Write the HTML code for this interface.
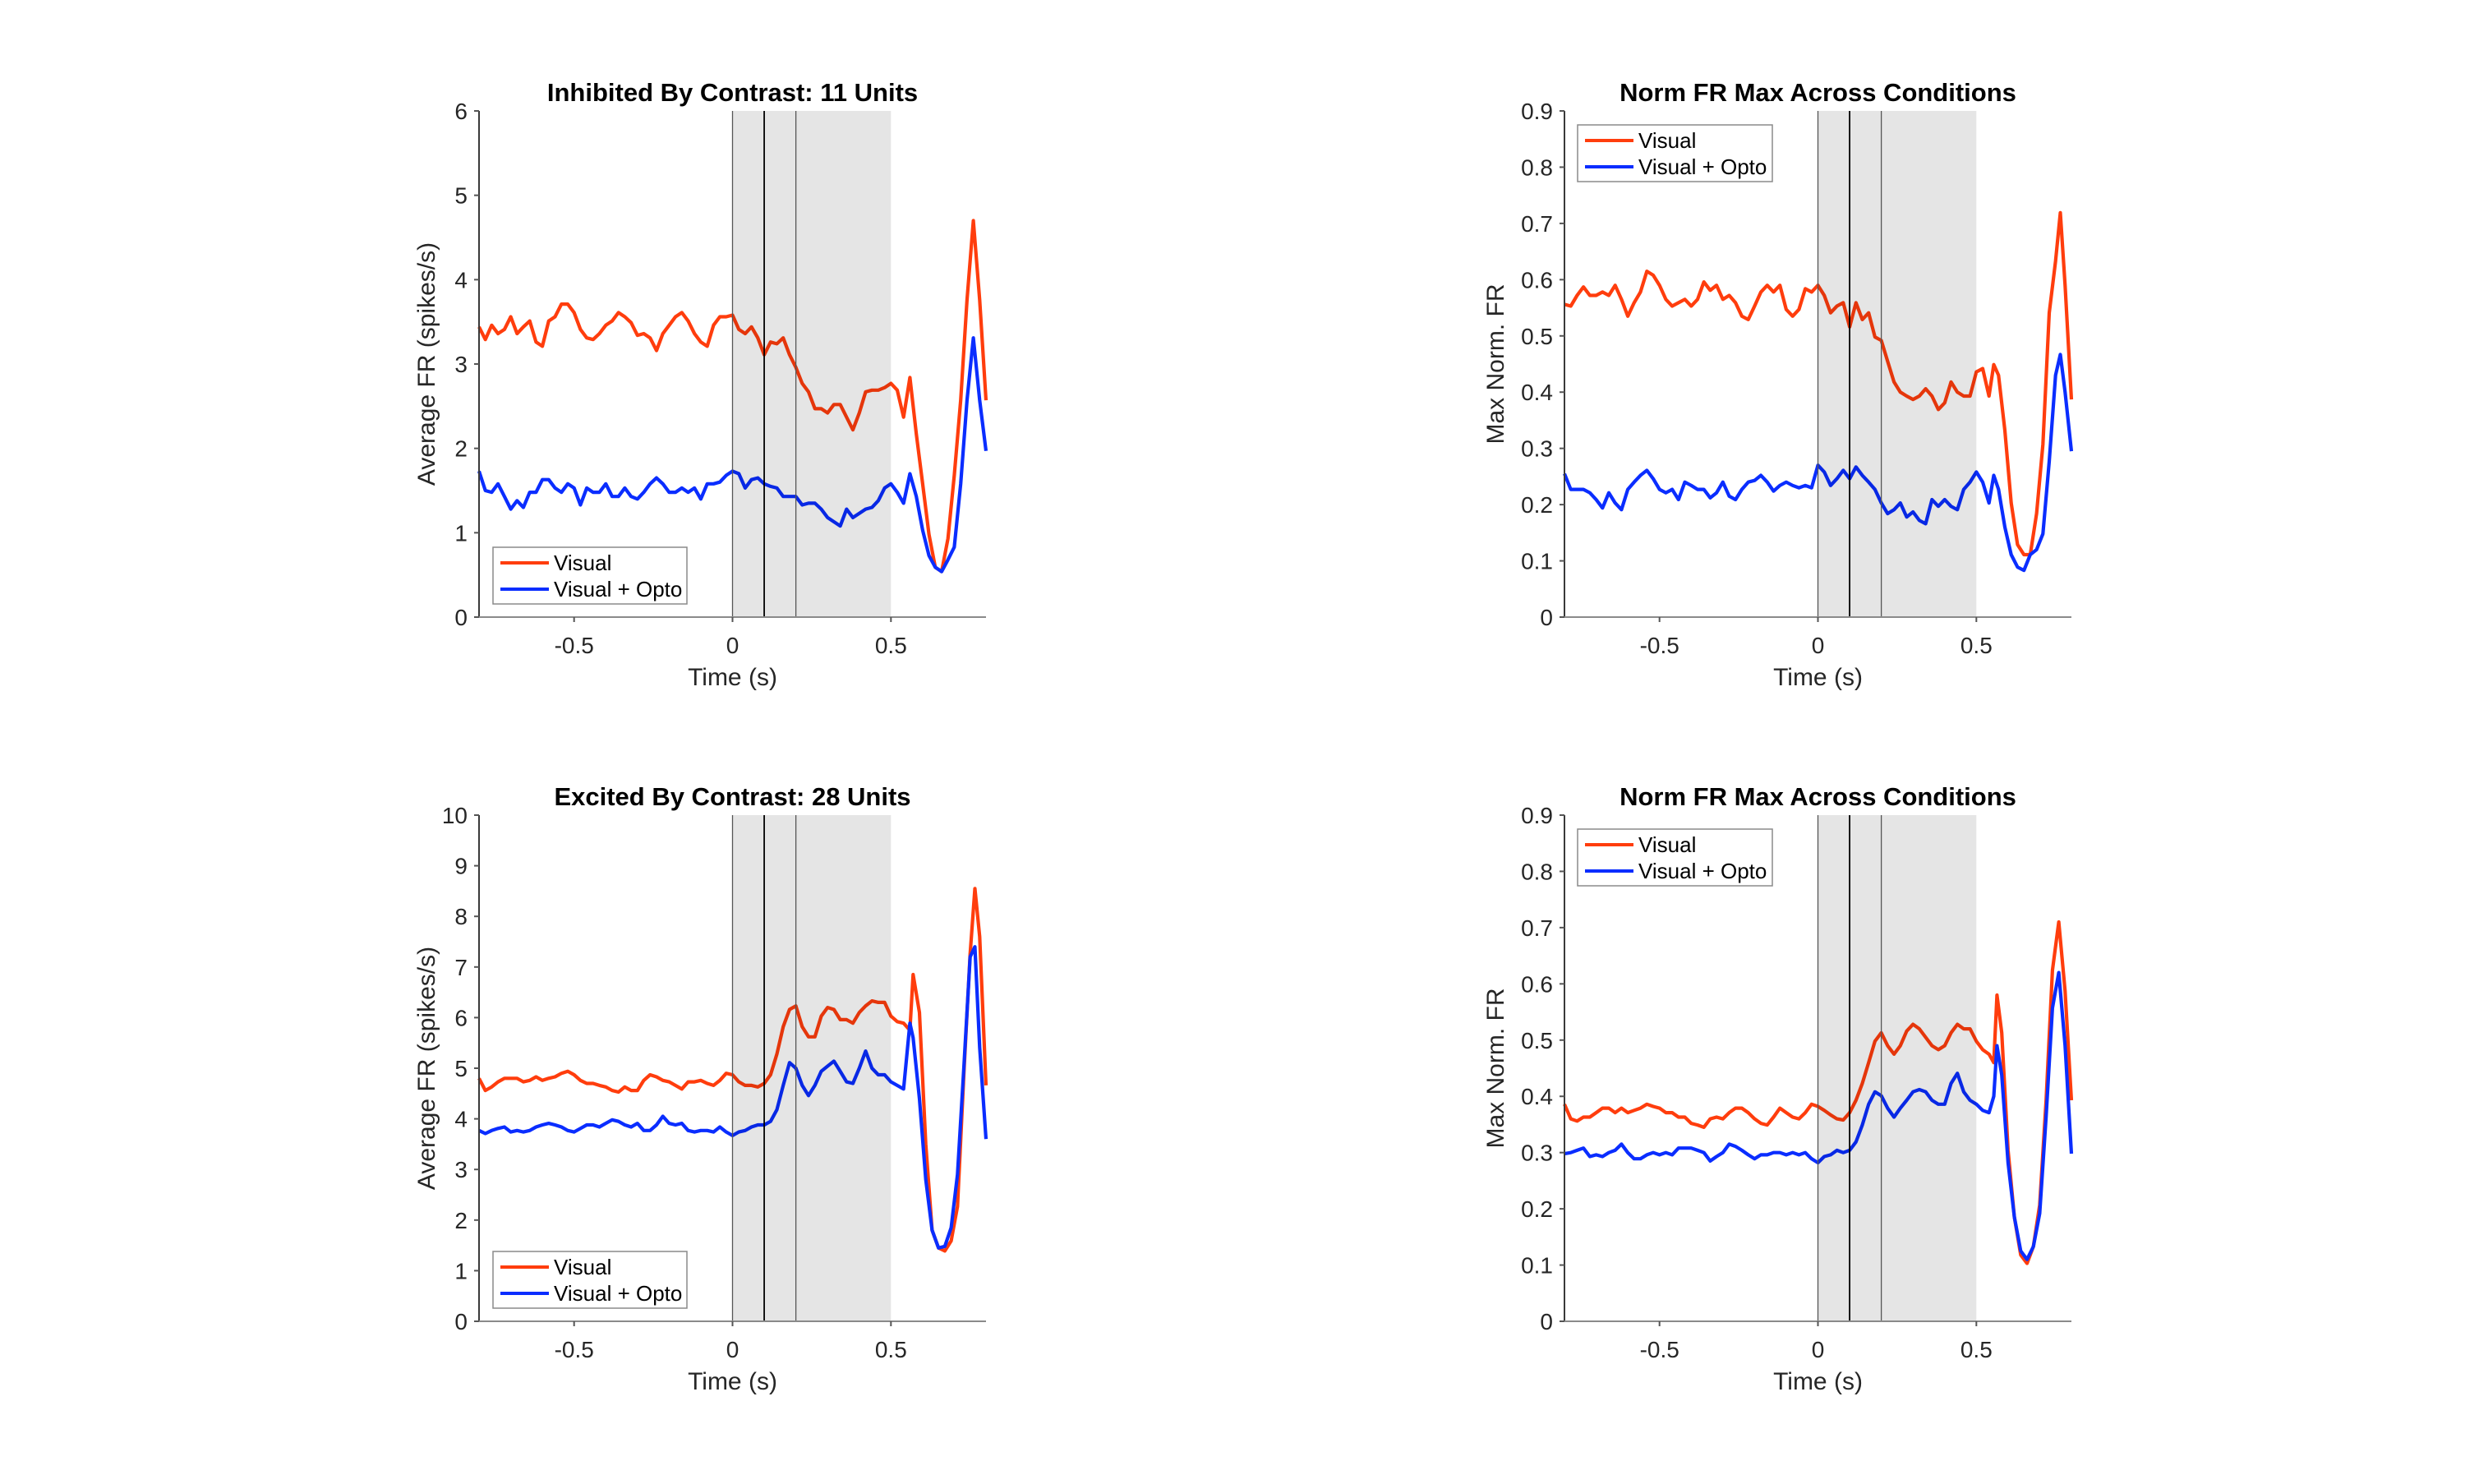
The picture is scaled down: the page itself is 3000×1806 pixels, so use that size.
<!DOCTYPE html>
<html><head><meta charset="utf-8"><style>
html,body{margin:0;padding:0;background:#fff;}
svg{display:block;font-family:"Liberation Sans",Arial,sans-serif;}
</style></head><body>
<svg id="fig" width="3000" height="1806" viewBox="0 0 3000 1806" xmlns="http://www.w3.org/2000/svg"></svg>
<script>
const baseT=[-0.8,-0.78,-0.76,-0.74,-0.72,-0.7,-0.68,-0.66,-0.64,-0.62,-0.6,-0.58,-0.56,-0.54,-0.52,-0.5,-0.48,-0.46,-0.44,-0.42,-0.4,-0.38,-0.36,-0.34,-0.32,-0.3,-0.28,-0.26,-0.24,-0.22,-0.2,-0.18,-0.16,-0.14,-0.12,-0.1,-0.08,-0.06,-0.04,-0.02,0,0.02,0.04,0.06,0.08,0.1,0.12,0.14,0.16,0.18,0.2,0.22,0.24,0.26,0.28,0.3,0.32,0.34,0.36,0.38,0.4,0.42,0.44,0.46,0.48,0.5,0.52,0.54];
const tailTL=[0.56,0.58,0.6,0.62,0.64,0.66,0.68,0.7,0.72,0.74,0.76,0.78,0.8];
const tailTR=[0.555,0.57,0.59,0.61,0.63,0.65,0.67,0.69,0.71,0.73,0.75,0.765,0.78,0.8];
const tailBL=[0.56,0.57,0.59,0.61,0.63,0.65,0.67,0.69,0.71,0.73,0.75,0.765,0.78,0.8];
const tailBR=[0.555,0.565,0.58,0.6,0.62,0.64,0.66,0.68,0.7,0.72,0.74,0.76,0.78,0.8];

const tlVisual=[3.44,3.29,3.46,3.36,3.41,3.56,3.36,3.44,3.51,3.26,3.21,3.51,3.56,3.71,3.71,3.61,3.41,3.31,3.29,3.36,3.46,3.51,3.61,3.56,3.49,3.34,3.36,3.31,3.16,3.36,3.46,3.56,3.61,3.51,3.36,3.26,3.21,3.46,3.56,3.56,3.58,
3.41,3.36,3.44,3.31,3.11,3.26,3.24,3.31,3.11,2.96,2.77,2.67,2.47,2.47,2.42,2.52,2.52,2.37,2.22,2.42,2.67,2.69,2.69,2.72,2.77,2.69,2.37,2.84,2.17,1.58,0.98,0.59,0.54,0.93,1.68,2.57,3.76,4.70,3.76,2.57];
const tlOpto=[1.73,1.50,1.48,1.58,1.43,1.28,1.38,1.30,1.48,1.48,1.63,1.63,1.53,1.48,1.58,1.53,1.33,1.53,1.48,1.48,1.58,1.43,1.43,1.53,1.43,1.40,1.48,1.58,1.65,1.58,1.48,1.48,1.53,1.48,1.53,1.40,1.58,1.58,1.60,1.68,1.73,
1.70,1.53,1.63,1.65,1.58,1.55,1.53,1.43,1.43,1.43,1.33,1.35,1.35,1.28,1.18,1.13,1.08,1.28,1.18,1.23,1.28,1.30,1.38,1.53,1.58,1.48,1.35,1.70,1.43,1.03,0.73,0.59,0.54,0.68,0.83,1.58,2.57,3.31,2.57,1.97];

const trVisual=[0.556,0.553,0.572,0.587,0.572,0.572,0.578,0.572,0.590,0.565,0.535,0.559,0.578,0.615,0.608,0.590,0.565,0.553,0.559,0.565,0.553,0.565,0.596,0.581,0.590,0.565,0.572,0.559,0.535,0.529,0.553,0.578,0.590,0.578,0.590,0.547,0.535,0.547,0.584,0.578,0.590,
0.572,0.541,0.553,0.559,0.516,0.559,0.529,0.541,0.498,0.492,0.455,0.418,0.400,0.393,0.387,0.393,0.406,0.393,0.369,0.381,0.418,0.400,0.393,0.393,0.436,0.442,0.393,
0.449,0.430,0.332,0.203,0.129,0.111,0.111,0.184,0.307,0.541,0.633,0.719,0.590,0.387];
const trOpto=[0.255,0.227,0.227,0.227,0.221,0.209,0.194,0.221,0.203,0.191,0.227,0.240,0.252,0.261,0.246,0.227,0.221,0.227,0.209,0.240,0.234,0.227,0.227,0.212,0.221,0.240,0.215,0.209,0.227,0.240,0.243,0.252,0.240,0.224,0.234,0.240,0.234,0.230,0.234,0.230,0.270,
0.258,0.234,0.246,0.261,0.246,0.267,0.252,0.240,0.227,0.203,0.184,0.191,0.203,0.178,0.187,0.172,0.166,0.209,0.197,0.209,0.197,0.191,0.227,0.240,0.258,0.240,0.203,
0.252,0.227,0.160,0.111,0.089,0.083,0.111,0.120,0.148,0.277,0.430,0.467,0.400,0.295];

const blVisual=[4.80,4.56,4.63,4.73,4.80,4.80,4.80,4.73,4.76,4.83,4.76,4.80,4.83,4.90,4.94,4.87,4.76,4.70,4.70,4.66,4.63,4.56,4.53,4.63,4.56,4.56,4.76,4.87,4.83,4.76,4.73,4.66,4.59,4.73,4.73,4.76,4.70,4.66,4.76,4.90,4.87,
4.73,4.66,4.66,4.63,4.70,4.87,5.28,5.82,6.16,6.23,5.82,5.62,5.62,6.03,6.20,6.16,5.96,5.96,5.89,6.10,6.23,6.33,6.30,6.30,6.03,5.92,5.89,
5.75,6.85,6.10,3.50,1.80,1.45,1.39,1.59,2.27,4.87,7.26,8.55,7.6,4.66];
const blOpto=[3.77,3.71,3.77,3.81,3.84,3.74,3.77,3.74,3.77,3.84,3.88,3.91,3.88,3.84,3.77,3.74,3.81,3.88,3.88,3.84,3.91,3.98,3.95,3.88,3.84,3.91,3.77,3.77,3.88,4.05,3.91,3.88,3.91,3.77,3.74,3.77,3.77,3.74,3.84,3.74,3.67,
3.74,3.77,3.84,3.88,3.88,3.95,4.18,4.66,5.11,5.00,4.66,4.46,4.66,4.94,5.04,5.14,4.94,4.73,4.70,5.00,5.34,5.00,4.87,4.87,4.73,4.66,4.59,
5.89,5.6,4.4,2.8,1.8,1.45,1.48,1.85,2.9,5.0,7.2,7.4,5.41,3.60];

const brVisual=[0.386,0.360,0.356,0.363,0.363,0.371,0.379,0.379,0.371,0.379,0.371,0.375,0.379,0.386,0.382,0.379,0.371,0.371,0.363,0.363,0.352,0.349,0.345,0.360,0.363,0.360,0.371,0.379,0.379,0.371,0.360,0.352,0.349,0.363,0.379,0.371,0.363,0.360,0.371,0.386,0.382,
0.375,0.367,0.360,0.358,0.371,0.393,0.423,0.460,0.498,0.513,0.490,0.475,0.490,0.516,0.528,0.520,0.505,0.490,0.483,0.490,0.513,0.528,0.520,0.520,0.498,0.483,0.475,
0.460,0.580,0.513,0.304,0.185,0.118,0.103,0.133,0.207,0.393,0.624,0.710,0.587,0.393];
const brOpto=[0.298,0.300,0.304,0.308,0.293,0.296,0.293,0.300,0.304,0.315,0.300,0.289,0.289,0.296,0.300,0.296,0.300,0.296,0.308,0.308,0.308,0.304,0.300,0.285,0.293,0.300,0.315,0.311,0.304,0.296,0.289,0.296,0.296,0.300,0.300,0.296,0.300,0.296,0.300,0.289,0.282,
0.293,0.296,0.304,0.300,0.304,0.319,0.349,0.386,0.408,0.401,0.379,0.363,0.379,0.393,0.408,0.412,0.408,0.393,0.386,0.386,0.423,0.441,0.408,0.393,0.386,0.375,0.371,
0.40,0.490,0.438,0.282,0.185,0.125,0.110,0.133,0.192,0.364,0.557,0.62,0.490,0.298];

const xTicks=[-0.5,0,0.5];
const xTickLabels=["-0.5","0","0.5"];
const ticksFR6=[0,1,2,3,4,5,6];
const ticksFR10=[0,1,2,3,4,5,6,7,8,9,10];
const ticksNorm=[0,0.1,0.2,0.3,0.4,0.5,0.6,0.7,0.8,0.9];
const markerTimes=[0,0.1,0.2];
const shadeRange=[0,0.5];

const NS="http://www.w3.org/2000/svg";
const svg=document.getElementById('fig');
function mk(tag,attrs,parent){const e=document.createElementNS(NS,tag);for(const k in attrs)e.setAttribute(k,attrs[k]);(parent||svg).appendChild(e);return e;}

const panels=[
 {id:'inhibited-fr',L:583,T:135,t:baseT.concat(tailTL),vis:tlVisual,opt:tlOpto,ymax:6,ticks:ticksFR6,title:'Inhibited By Contrast: 11 Units',ylab:'Average FR (spikes/s)',ylx:529,leg:'bottom'},
 {id:'inhibited-norm',L:1904,T:135,t:baseT.concat(tailTR),vis:trVisual,opt:trOpto,ymax:0.9,ticks:ticksNorm,title:'Norm FR Max Across Conditions',ylab:'Max Norm. FR',ylx:1830,leg:'top'},
 {id:'excited-fr',L:583,T:992,t:baseT.concat(tailBL),vis:blVisual,opt:blOpto,ymax:10,ticks:ticksFR10,title:'Excited By Contrast: 28 Units',ylab:'Average FR (spikes/s)',ylx:529,leg:'bottom'},
 {id:'excited-norm',L:1904,T:992,t:baseT.concat(tailBR),vis:brVisual,opt:brOpto,ymax:0.9,ticks:ticksNorm,title:'Norm FR Max Across Conditions',ylab:'Max Norm. FR',ylx:1830,leg:'top'}
];
const W=617,H=616;
panels.forEach(p=>{
  const g=mk('g',{});
  
  
  const xs=t=>p.L+(t+0.8)/1.6*W;
  const ys=v=>p.T+H-(v/p.ymax)*H;
  // series
  [[p.vis,'#ff3d0d','visual'],[p.opt,'#0a2dff','visual-opto']].forEach(([arr,col,nm])=>{
    let d='';
    arr.forEach((v,i)=>{d+=(i?'L':'M')+xs(p.t[i]).toFixed(1)+' '+ys(v).toFixed(1);});
    const path=mk('path',{d:d,fill:'none',stroke:col,'stroke-width':4.2,'stroke-linejoin':'round'},g);
    
    
  });
  // shade over lines
  const sh=mk('rect',{x:xs(shadeRange[0]),y:p.T,width:xs(shadeRange[1])-xs(shadeRange[0]),height:H,fill:'rgba(0,0,0,0.1)'},g);
  
  
  markerTimes.forEach((m,i)=>{
    const ln=mk('line',{x1:xs(m),x2:xs(m),y1:p.T,y2:p.T+H,stroke:i==1?'#000':'#555','stroke-width':i==1?1.8:1.3},g);
    
    
  });
  // axes
  const ya=mk('line',{x1:p.L,x2:p.L,y1:p.T,y2:p.T+H,stroke:'#3a3a3a','stroke-width':2},g);
  
  
  const xa=mk('line',{x1:p.L,x2:p.L+W,y1:p.T+H,y2:p.T+H,stroke:'#8a8a8a','stroke-width':2},g);
  
  
  p.ticks.forEach(v=>{
    const y=ys(v);
    mk('line',{x1:p.L-6,x2:p.L,y1:y,y2:y,stroke:'#555','stroke-width':2},g);
    const tx=mk('text',{x:p.L-14,y:y+10,'text-anchor':'end','font-size':28,fill:'#262626'},g);
    tx.textContent=String(v);
    
    
  });
  xTicks.forEach((v,i)=>{
    const x=xs(v);
    mk('line',{x1:x,x2:x,y1:p.T+H,y2:p.T+H+6,stroke:'#555','stroke-width':2},g);
    const tx=mk('text',{x:x,y:p.T+H+44,'text-anchor':'middle','font-size':28,fill:'#262626'},g);
    tx.textContent=xTickLabels[i];
    
    
  });
  const xl=mk('text',{x:p.L+W/2,y:p.T+H+83,'text-anchor':'middle','font-size':30,fill:'#262626'},g);
  xl.textContent='Time (s)';
  
  
  const yl=mk('text',{x:p.ylx,y:p.T+H/2,'text-anchor':'middle','font-size':30,fill:'#262626',transform:'rotate(-90 '+p.ylx+' '+(p.T+H/2)+')'},g);
  yl.textContent=p.ylab;
  
  
  const ti=mk('text',{x:p.L+W/2,y:p.T-12,'text-anchor':'middle','font-size':31,'font-weight':'bold',fill:'#000'},g);
  ti.textContent=p.title;
  
  
  // legend
  const lx=p.leg==='bottom'?p.L+17:p.L+16;
  const ly=p.leg==='bottom'?p.T+H-85:p.T+17;
  const lw=p.leg==='bottom'?236:237;
  const lg=mk('g',{},g);
  
  
  mk('rect',{x:lx,y:ly,width:lw,height:69,fill:'#fff',stroke:'#8a8a8a','stroke-width':1.5},lg);
  [['Visual','#ff3d0d',19],['Visual + Opto','#0a2dff',51]].forEach(([lab,col,dy])=>{
    const e=mk('g',{},lg);
    
    
    mk('line',{x1:lx+9,x2:lx+68,y1:ly+dy,y2:ly+dy,stroke:col,'stroke-width':4},e);
    const t=mk('text',{x:lx+74,y:ly+dy+9,'font-size':26,fill:'#000'},e);
    t.textContent=lab;
  });
});
</script>
</body></html>
